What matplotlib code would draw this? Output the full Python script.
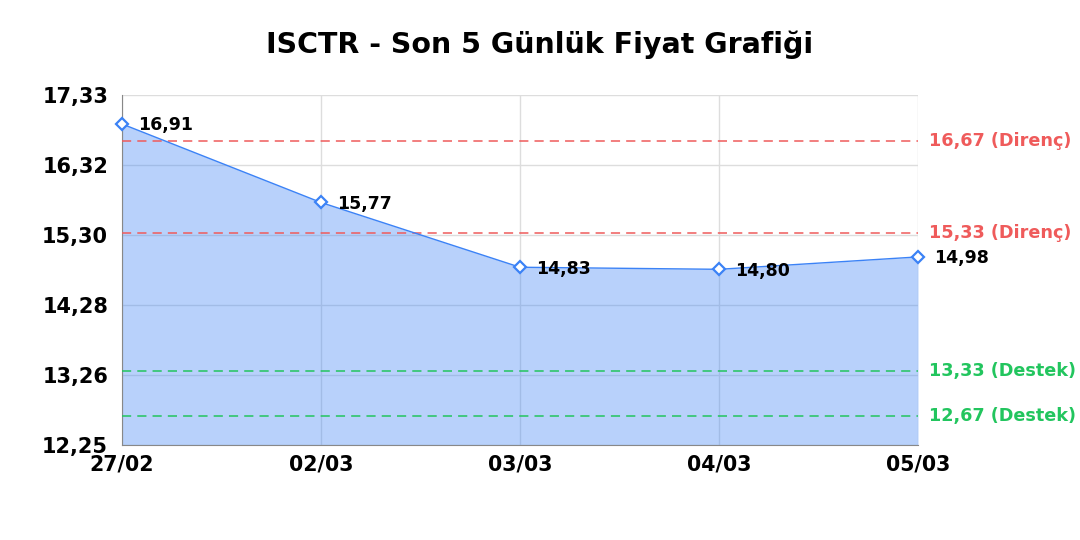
import matplotlib
matplotlib.use("Agg")
import matplotlib.pyplot as plt

# Values
dates = ["27/02", "02/03", "03/03", "04/03", "05/03"]
prices = [16.91, 15.77, 14.83, 14.80, 14.98]
resistance = [16.67, 15.33]
support = [13.33, 12.67]
y_ticks = [12.25, 13.26, 14.28, 15.30, 16.32, 17.33]

def tr(v):
    return f"{v:.2f}".replace(".", ",")

plt.rcParams['font.family'] = ['DejaVu Sans']

fig = plt.figure(figsize=(10.8, 5.4), dpi=100)
ax = fig.add_axes([0.113, 0.176, 0.737, 0.648])

x = list(range(len(dates)))
ax.fill_between(x, prices, 12.25, color="#3b82f6", alpha=0.36, lw=0, zorder=1)
ax.plot(x, prices, color="#3b82f6", lw=1, marker="D", ms=6,
        mfc="white", mec="#3b82f6", mew=1.6, zorder=4, clip_on=False)

for xi, p in zip(x, prices):
    ax.text(xi + 0.08, p - 0.02, tr(p), fontsize=12.5, fontweight="bold",
            va="center", ha="left", zorder=5)

for r in resistance:
    ax.axhline(r, color="#ef5b5b", ls=(0, (6, 4)), lw=1.1, zorder=3)
    ax.text(1.014, r, f"{tr(r)} (Direnç)", transform=ax.get_yaxis_transform(),
            color="#ef5b5b", fontsize=12.7, fontweight="bold", va="center")
for s in support:
    ax.axhline(s, color="#22c55e", ls=(0, (6, 4)), lw=1.1, zorder=3)
    ax.text(1.014, s, f"{tr(s)} (Destek)", transform=ax.get_yaxis_transform(),
            color="#22c55e", fontsize=12.7, fontweight="bold", va="center")

ax.set_xlim(0, len(dates) - 1)
ax.set_ylim(12.25, 17.33)
ax.set_xticks(x)
ax.set_xticklabels(dates, fontsize=14.8, fontweight="bold")
ax.set_yticks(y_ticks)
ax.set_yticklabels([tr(v) for v in y_ticks], fontsize=15, fontweight="bold")
ax.tick_params(axis="y", length=0, pad=10)
ax.tick_params(axis="x", length=0, pad=7)
ax.grid(True, color="#dddddd", lw=1, zorder=0)
ax.set_axisbelow(True)
for side in ["top", "right"]:
    ax.spines[side].set_visible(False)
for side in ["left", "bottom"]:
    ax.spines[side].set_color("#888888")

fig.text(0.5, 1 - 45 / 540, "ISCTR - Son 5 Günlük Fiyat Grafiği", fontsize=20.5,
         fontweight="bold", ha="center", va="center")

fig.savefig("out.png", dpi=100)
